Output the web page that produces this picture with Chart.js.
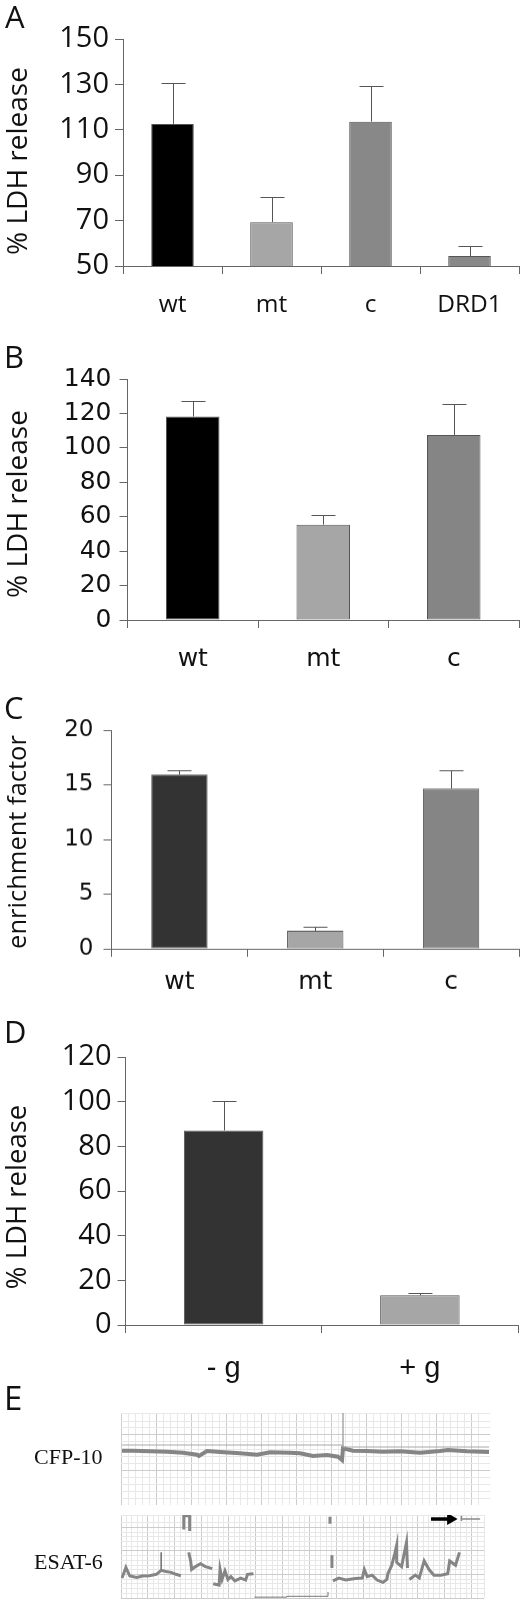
<!DOCTYPE html>
<html>
<head>
<meta charset="utf-8">
<title>LDH release and enrichment</title>
<script src="https://cdn.jsdelivr.net/npm/chart.js@4/dist/chart.umd.min.js"></script>
<style>
    html, body { margin: 0; padding: 0; background: #fff; }
    #page { position: relative; width: 522px; height: 1610px; overflow: hidden; }
    canvas { position: absolute; left: 0; }
    .label { position: absolute; white-space: nowrap; color: #111; line-height: 1; }
    .sans { font-family: "Open Sans", sans-serif; }
    .serif { font-family: "Liberation Serif", serif; font-size: 22px; }
    .vertical { transform: translate(-50%, -50%) rotate(-90deg); }
</style>
</head>
<body>
<div id="page"></div>
<script>
// Panel A
const catsA = ['wt', 'mt', 'c', 'DRD1'];
const valuesA = [112.6, 69.3, 113.6, 54.4];
const errorsA = [130.7, 80.6, 129.4, 58.9];
const ticksA = [50, 70, 90, 110, 130, 150];
const coloursA = ['#000000', '#a6a6a6', '#888888', '#888888'];

// Panel B
const catsB = ['wt', 'mt', 'c'];
const valuesB = [118.2, 55.4, 107.5];
const errorsB = [127, 61.2, 125.5];
const ticksB = [0, 20, 40, 60, 80, 100, 120, 140];
const coloursB = ['#000000', '#a6a6a6', '#858585'];

// Panel C
const catsC = ['wt', 'mt', 'c'];
const valuesC = [15.94, 1.65, 14.66];
const errorsC = [16.3, 2.0, 16.3];
const ticksC = [0, 5, 10, 15, 20];
const coloursC = ['#333333', '#a6a6a6', '#858585'];

// Panel D
const catsD = ['- g', '+ g'];
const valuesD = [87.1, 13.3];
const errorsD = [100.3, 14.4];
const ticksD = [0, 20, 40, 60, 80, 100, 120];
const coloursD = ['#333333', '#a6a6a6'];

// Panel E, strip chart traces (null = pen lifted)
const cfpX = [1, 12, 29, 46, 62, 76, 78, 86, 99, 119, 136, 149, 169, 179, 192, 206, 217, 221, 222, 232, 246, 262, 279, 299, 319, 327, 346, 368];
const cfpY = [54.3, 54.3, 53.7, 53.3, 52.3, 50.3, 49, 54, 53, 51.7, 50.3, 52.7, 52.3, 51.7, 49, 50, 48.3, 45, 56.7, 54.3, 54, 53.3, 53.7, 52.3, 54, 55, 53.7, 53];
const cfpRuleX = [1, 222, 222, 222, 368];
const cfpRuleY = [60, 60, 92, 58, 58];
const esatX = [1, 5, 9, 16, 22, 29, 36, 41, 46, 51, 56, 61, 62,
    64, 64, 70, 70, 71,
    69, 71, 72, 76, 81, 86, 93, 93.5,
    94, 100, 101, 103, 106, 109, 112, 116, 122, 127, 129, 135, 136,
    213, 213, 214, 215, 215, 215.5,
    216, 222, 229, 239, 246, 248, 251, 256, 261, 267, 271, 272, 276, 279, 281, 281, 286, 288, 291, 292, 293,
    294, 300, 304, 309, 314, 319, 326, 333, 335, 341, 345];
const esatY = [23.3, 35.7, 25.7, 24, 25.7, 26, 27.7, 32.3, 31, 30, 27.7, 26, null,
    80, 96, 96, 78.3, null,
    53.3, 43.3, 33.3, 36.7, 40, 36.7, 34.3, null,
    16.7, 15, 33.3, 21.7, 31.7, 21.7, 25, 20, 23.3, 21, 27.7, 28.3, null,
    95, 86.7, null, 50, 35, null,
    20, 23.3, 21, 22.7, 23.3, 33.3, 25, 26.7, 21, 18.3, 21.7, 28.3, 38.3, 51.7, 61.7, 41.7, 36.7, 48.3, 65, 35, null,
    21.7, 26.7, 23.3, 43.3, 33.3, 26.7, 26.7, 28.3, 43.3, 38.3, 53.3];
const penX = [41, 41, 42, 136, 169, 169, 211, 211];
const penY = [53.3, 33, null, 1, 1, 2, 2, 7];
const arrowX = [316, 336];
const arrowY = [92.3, 92.3];
const markerX = [347, 347, 347, 366];
const markerY = [96, 90, 92.3, 92.3];

const axisColour = '#666666';
const page = document.getElementById('page');

// error bars are not in Chart.js, so draw them from the value scale
const errorBars = {
    id: 'errorBars',
    beforeDatasetsDraw(chart, args, opts) {
        if (!opts.tops) return;
        const ctx = chart.ctx;
        const meta = chart.getDatasetMeta(0);
        ctx.save();
        ctx.strokeStyle = '#555555';
        ctx.lineWidth = 1;
        opts.tops.forEach((top, i) => {
            const x = Math.round(meta.data[i].x) + 0.5;
            const y = Math.round(chart.scales.y.getPixelForValue(top)) + 0.5;
            ctx.beginPath();
            ctx.moveTo(x, meta.data[i].y);
            ctx.lineTo(x, y);
            ctx.moveTo(x - 12, y);
            ctx.lineTo(x + 12, y);
            ctx.stroke();
        });
        ctx.restore();
    }
};
Chart.register(errorBars);

function addCanvas(top, width, height) {
    const canvas = document.createElement('canvas');
    canvas.width = width;
    canvas.height = height;
    canvas.style.top = top + 'px';
    canvas.style.width = width + 'px';
    canvas.style.height = height + 'px';
    page.appendChild(canvas);
    return canvas;
}

function addLabel(text, cls, x, y, size) {
    const el = document.createElement('div');
    el.className = 'label ' + cls;
    el.textContent = text;
    el.style.left = x + 'px';
    el.style.top = y + 'px';
    if (size) el.style.fontSize = size + 'px';
    page.appendChild(el);
}

function barPanel(p) {
    const padTop = 30;
    const areaHeight = p.bottom - p.top;
    const canvas = addCanvas(p.top - padTop, p.right + 3, padTop + areaHeight + 70);
    new Chart(canvas, {
        type: 'bar',
        data: {
            labels: p.cats,
            datasets: [{
                data: p.values,
                backgroundColor: p.colours,
                borderColor: '#555555',
                borderWidth: 1,
                borderSkipped: false,
                categoryPercentage: 1,
                barPercentage: p.barShare
            }]
        },
        options: {
            responsive: false,
            animation: false,
            layout: { padding: { top: padTop, right: 3, left: 0, bottom: 0 } },
            plugins: {
                legend: { display: false },
                tooltip: { enabled: false },
                errorBars: { tops: p.errors }
            },
            scales: {
                x: {
                    afterFit: scale => { scale.height = 70; },
                    border: { color: axisColour },
                    grid: { drawOnChartArea: false, color: axisColour, tickLength: 8 },
                    ticks: {
                        color: '#111',
                        padding: p.xPad,
                        maxRotation: 0,
                        font: { family: p.xFamily, size: p.xSize }
                    }
                },
                y: {
                    min: p.ticks[0],
                    max: p.ticks[p.ticks.length - 1],
                    afterFit: scale => { scale.width = p.left; },
                    afterBuildTicks: scale => { scale.ticks = p.ticks.map(v => ({ value: v })); },
                    border: { color: axisColour },
                    grid: { drawOnChartArea: false, color: axisColour, tickLength: 8 },
                    ticks: {
                        color: '#111',
                        padding: p.yPad,
                        font: { family: p.yFamily, size: p.ySize }
                    }
                }
            }
        }
    });
}

function points(xs, ys) {
    return xs.map((x, i) => ({ x: x, y: ys[i] }));
}

function stripPanel(top, height, xMax, step, datasets) {
    const canvas = addCanvas(top, xMax + 121, height);
    const gridColour = ctx => {
        const n = Math.round(ctx.tick.value / step);
        return n % 5 === 0 ? '#cccccc' : '#e8e8e8';
    };
    new Chart(canvas, {
        type: 'line',
        data: { datasets: datasets },
        options: {
            responsive: false,
            animation: false,
            layout: { padding: 0 },
            plugins: { legend: { display: false }, tooltip: { enabled: false } },
            elements: { point: { radius: 0 } },
            scales: {
                x: {
                    type: 'linear',
                    min: 0,
                    max: xMax,
                    afterFit: scale => { scale.height = 0; },
                    border: { display: false },
                    grid: { color: gridColour, drawTicks: false },
                    ticks: { display: false, stepSize: step, autoSkip: false }
                },
                y: {
                    min: 0,
                    max: height,
                    afterFit: scale => { scale.width = 121; },
                    border: { display: false },
                    grid: { color: gridColour, drawTicks: false },
                    ticks: { display: false, stepSize: step, autoSkip: false }
                }
            }
        }
    });
}

barPanel({
    cats: catsA, values: valuesA, errors: errorsA, ticks: ticksA, colours: coloursA,
    left: 123, right: 519, top: 38.5, bottom: 266, barShare: 0.43,
    yFamily: '"Open Sans"', ySize: 29, yPad: 6,
    xFamily: '"Open Sans"', xSize: 24.5, xPad: 16
});
barPanel({
    cats: catsB, values: valuesB, errors: errorsB, ticks: ticksB, colours: coloursB,
    left: 127.5, right: 519, top: 378.5, bottom: 620, barShare: 0.41,
    yFamily: '"DejaVu Sans"', ySize: 25, yPad: 8,
    xFamily: '"DejaVu Sans"', xSize: 25, xPad: 16
});
barPanel({
    cats: catsC, values: valuesC, errors: errorsC, ticks: ticksC, colours: coloursC,
    left: 111.5, right: 519, top: 730, bottom: 948.5, barShare: 0.415,
    yFamily: '"DejaVu Sans"', ySize: 23, yPad: 10,
    xFamily: '"DejaVu Sans"', xSize: 25, xPad: 10
});
barPanel({
    cats: catsD, values: valuesD, errors: errorsD, ticks: ticksD, colours: coloursD,
    left: 125.5, right: 518, top: 1056.5, bottom: 1325, barShare: 0.405,
    yFamily: '"Open Sans"', ySize: 29, yPad: 6,
    xFamily: '"Liberation Sans"', xSize: 29, xPad: 19
});

stripPanel(1413, 92, 369, 7, [
    { data: points(cfpRuleX, cfpRuleY), borderColor: '#a8a8a8', borderWidth: 1 },
    { data: points(cfpX, cfpY), borderColor: '#858585', borderWidth: 4 }
]);
stripPanel(1508, 97, 370, 5.5, [
    { data: points(esatX, esatY), borderColor: '#858585', borderWidth: 3 },
    { data: points(penX, penY), borderColor: '#777777', borderWidth: 1 },
    { data: points(markerX, markerY), borderColor: '#8a8a8a', borderWidth: 1.5 },
    {
        data: points(arrowX, arrowY),
        borderColor: '#000000',
        borderWidth: 3.5,
        pointStyle: 'triangle',
        pointRotation: 90,
        pointBackgroundColor: '#000000',
        pointBorderWidth: 0,
        pointRadius: [0, 7]
    }
]);

// panel letters and rotated axis captions
addLabel('A', 'sans', 5, 1, 31);
addLabel('B', 'sans', 4, 341, 31);
addLabel('C', 'sans', 4, 692, 31);
addLabel('D', 'sans', 4, 1016, 31);
addLabel('E', 'sans', 4, 1381, 33);

addLabel('% LDH release', 'sans vertical', 16, 161, 28);
addLabel('% LDH release', 'sans vertical', 16, 504, 28);
addLabel('enrichment factor', 'sans vertical', 17, 842, 25.5);
addLabel('% LDH release', 'sans vertical', 16, 1197, 27.5);

addLabel('CFP-10', 'serif', 34, 1446);
addLabel('ESAT-6', 'serif', 34, 1551);
</script>
</body>
</html>
